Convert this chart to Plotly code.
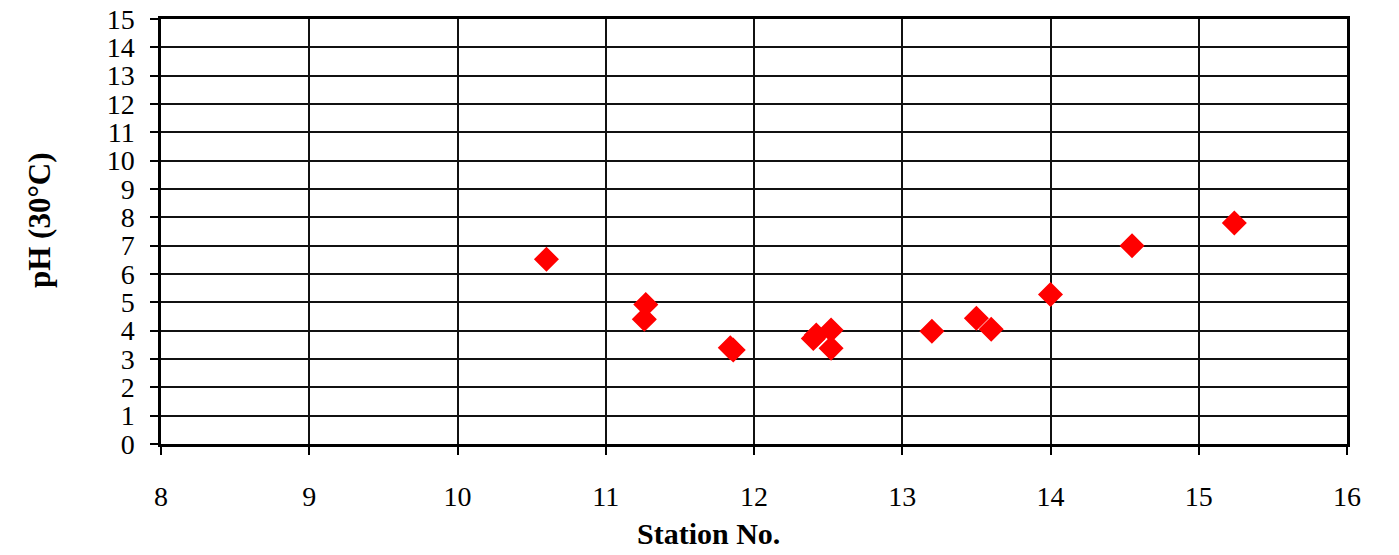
import plotly.graph_objects as go

station = [10.60, 11.27, 11.26, 11.84, 11.86, 12.40, 12.42, 12.52, 12.52, 13.20, 13.50, 13.60, 14.00, 14.55, 15.24]
ph      = [6.52, 4.92, 4.40, 3.40, 3.32, 3.72, 3.85, 4.02, 3.38, 3.98, 4.44, 4.05, 5.28, 7.00, 7.80]

x_ticks = list(range(8, 17))
y_ticks = list(range(0, 16))

FONT = "Liberation Serif, Times New Roman, serif"

fig = go.Figure()
fig.add_trace(go.Scatter(
    x=station, y=ph, mode="markers",
    marker=dict(symbol="diamond", size=16, color="#ff0000",
                line=dict(color="#ff0000", width=3)),
    showlegend=False,
))

fig.update_layout(
    width=1399, height=555,
    margin=dict(l=161, r=52, t=19, b=111, autoexpand=False),
    paper_bgcolor="white", plot_bgcolor="white",
    font=dict(family=FONT, size=28, color="black"),
    xaxis=dict(range=[8, 16], tickvals=x_ticks, ticktext=[str(v) for v in x_ticks],
               showgrid=True, gridcolor="#111111", gridwidth=1.5,
               showline=True, linecolor="black", linewidth=2.5, mirror=True,
               ticks="outside", ticklen=8, tickcolor="black", tickwidth=1.5,
               ticklabelstandoff=18, zeroline=False, automargin=False),
    yaxis=dict(range=[0, 15], tickvals=y_ticks, ticktext=[str(v) for v in y_ticks],
               showgrid=True, gridcolor="#111111", gridwidth=1.5,
               showline=True, linecolor="black", linewidth=2.5, mirror=True,
               ticks="outside", ticklen=8, tickcolor="black", tickwidth=1.5,
               ticklabelstandoff=10, zeroline=False, automargin=False),
    annotations=[
        dict(text="<b>Station No.</b>", xref="paper", yref="paper",
             x=(708 - 161) / (1347 - 161), y=-(533 - 444) / 425,
             xanchor="center", yanchor="middle", showarrow=False,
             font=dict(family=FONT, size=30, color="black")),
        dict(text="<b>pH (30°C)</b>", xref="paper", yref="paper",
             x=-(161 - 40) / (1347 - 161), y=(444 - 220) / 425,
             xanchor="center", yanchor="middle", showarrow=False, textangle=-90,
             font=dict(family=FONT, size=31, color="black")),
    ],
)

fig.write_html("out.html")
